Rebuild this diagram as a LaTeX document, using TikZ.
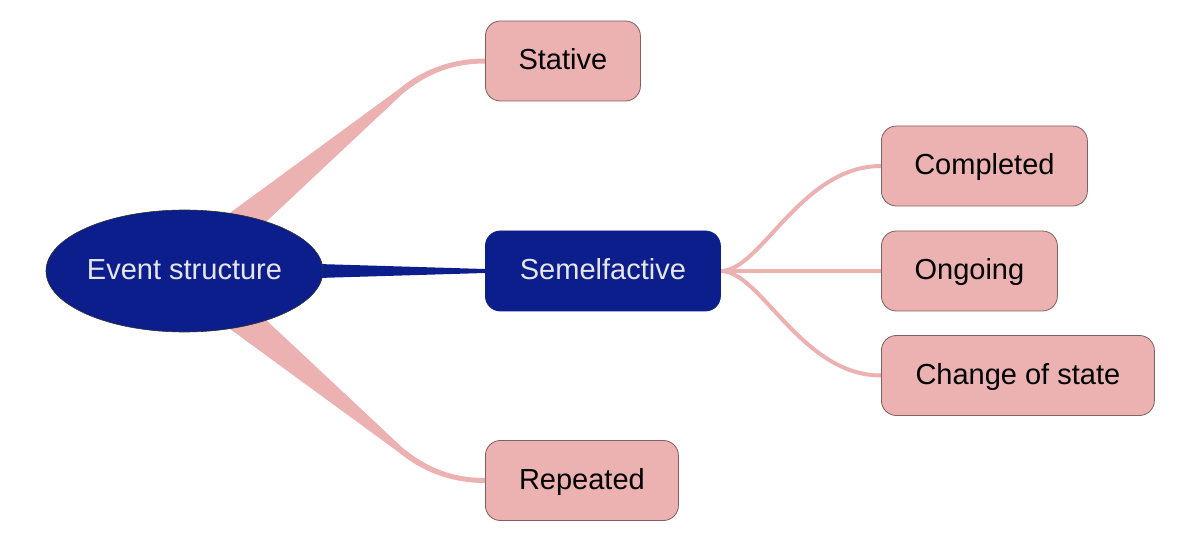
\documentclass[tikz,border=0pt]{standalone}
\usepackage{fontspec}
\setmainfont{Liberation Sans}
\usetikzlibrary{shapes.geometric,calc}
\definecolor{bluec}{HTML}{0C1E8C}
\definecolor{pinkc}{HTML}{ECB1B1}
\definecolor{pinkborder}{HTML}{7F6060}
\definecolor{lighttext}{HTML}{E6E6EA}
\pgfdeclarelayer{background}
\pgfsetlayers{background,main}
\tikzset{
  leaf/.style={draw=pinkborder, line width=0.8pt, fill=pinkc, rounded corners=15pt,
    minimum height=80pt, inner xsep=32pt, inner ysep=0pt, anchor=west,
    text height=20pt, text depth=2pt, font=\fontsize{29}{32}\selectfont, text=black},
  mid/.style={leaf, draw=bluec, fill=bluec, text=lighttext},
  root/.style={ellipse, draw=black!80, line width=0.6pt, fill=bluec, text=lighttext,
    minimum width=277pt, minimum height=122pt, inner sep=0pt,
    text height=20pt, text depth=2pt, font=\fontsize{29}{32}\selectfont},
  pinkbranch/.style={draw=pinkc, line width=4pt}
}
\begin{document}
\begin{tikzpicture}[x=1pt,y=1pt]
\useasboundingbox (0,0) rectangle (1183,536);
\node[root] (ev) at (184.5,265) {Event structure};
\node[leaf, minimum width=155pt] (st) at (485,475) {Stative};
\node[mid, minimum width=235pt] (se) at (485,265) {Semelfactive};
\node[leaf, minimum width=193pt] (rp) at (485,55.5) {Repeated};
\node[leaf, minimum width=206pt] (co) at (881,370) {Completed};
\node[leaf, minimum width=176pt] (og) at (881,265) {Ongoing};
\node[leaf, minimum width=273pt] (ch) at (881,160.5) {Change of state};
\coordinate (b1) at ($(st.west)+(-85,-31)$);
\coordinate (b3) at ($(rp.west)+(-85,31)$);
\begin{pgfonlayer}{background}
  % tapered branch to Stative
  \fill[pinkc] ($(ev.center)+(-12.8,15.4)$) -- ($(b1)+(-1.9,2.3)$)
    .. controls ($(b1)+(25.1,24.7)$) and ($(st.west)+(-30,2.5)$) .. ($(st.west)+(0,2.5)$)
    -- ($(st.west)+(0,-2.5)$)
    .. controls ($(st.west)+(-30,-2.5)$) and ($(b1)+(28.9,20.1)$) .. ($(b1)+(1.9,-2.3)$)
    -- ($(ev.center)+(12.8,-15.4)$) -- cycle;
  % tapered branch to Repeated
  \fill[pinkc] ($(ev.center)+(12.8,15.4)$) -- ($(b3)+(1.9,2.3)$)
    .. controls ($(b3)+(28.9,-20.1)$) and ($(rp.west)+(-30,2.5)$) .. ($(rp.west)+(0,2.5)$)
    -- ($(rp.west)+(0,-2.5)$)
    .. controls ($(rp.west)+(-30,-2.5)$) and ($(b3)+(25.1,-24.7)$) .. ($(b3)+(-1.9,-2.3)$)
    -- ($(ev.center)+(-12.8,-15.4)$) -- cycle;
  % tapered branch to Semelfactive
  \fill[bluec] ($(ev.center)+(0,11)$) -- ($(se.west)+(0,2)$) -- ($(se.west)+(0,-2)$)
    -- ($(ev.center)+(0,-11)$) -- cycle;
  % sub-branches
  \draw[pinkbranch] (se.east) .. controls +(40,0) and +(-80,0) .. (co.west);
  \draw[pinkbranch] (se.east) -- (og.west);
  \draw[pinkbranch] (se.east) .. controls +(40,0) and +(-80,0) .. (ch.west);
\end{pgfonlayer}
\end{tikzpicture}
\end{document}
